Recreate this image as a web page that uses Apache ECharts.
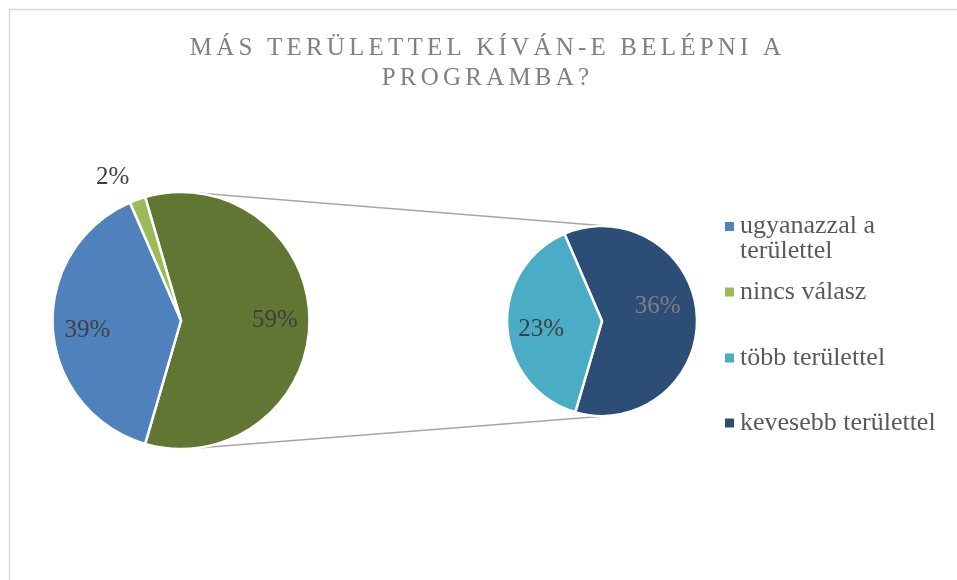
<!DOCTYPE html>
<html lang="hu">
<head>
<meta charset="utf-8">
<title>Más területtel kíván-e belépni a programba?</title>
<script src="https://cdn.jsdelivr.net/npm/echarts@6/dist/echarts.min.js"></script>
<style>
  html, body { margin: 0; padding: 0; background: #ffffff; }
  #chart { width: 957px; height: 580px; }
</style>
</head>
<body>
<div id="chart"></div>
<script>
// ---- data (percent of respondents) ----
const titleLines = ['MÁS TERÜLETTEL KÍVÁN-E BELÉPNI A', 'PROGRAMBA?'];
const mainCategories = ['ugyanazzal a területtel', 'nincs válasz'];
const mainValues = [39, 2];
const splitCategories = ['több területtel', 'kevesebb területtel'];
const splitValues = [23, 36];
const otherName = 'egyéb';
const legendOrder = ['ugyanazzal a területtel', 'nincs válasz', 'több területtel', 'kevesebb területtel'];

// ---- styling ----
const sliceColors = {
  'ugyanazzal a területtel': '#4f81bd',
  'nincs válasz': '#9bbb59',
  'több területtel': '#4bacc6',
  'kevesebb területtel': '#2c4d75',
  'egyéb': '#607632'
};
const labelColors = {
  'kevesebb területtel': '#7f7f7f'
};
const serif = "'Liberation Serif', 'Times New Roman', serif";

// ---- layout ----
const mainPie = { cx: 181, cy: 320.5, r: 128.5 };
const splitPie = { cx: 602, cy: 321, r: 95 };
const splitTilt = 3.5;             // degrees the second pie is turned
const legendIconY = [226, 291.5, 357.5, 422.5];
const legendLine = 25;
// small extra shifts of individual value labels (px)
const labelNudge = {
  'ugyanazzal a területtel': [0, 4],
  'több területtel': [-1, 5],
  'kevesebb területtel': [-4, -11]
};

// upper and lower outer tangents between the two pies
function tangents(a, b) {
  const dx = b.cx - a.cx, dy = b.cy - a.cy;
  const d = Math.hypot(dx, dy);
  const base = Math.atan2(dy, dx);
  const t = Math.acos((a.r - b.r) / d);
  return [base - t, base + t].map(ang => [
    a.cx + a.r * Math.cos(ang), a.cy + a.r * Math.sin(ang),
    b.cx + b.r * Math.cos(ang), b.cy + b.r * Math.sin(ang)
  ]);
}

// pushes inside labels outwards to a given fraction of the radius
function radialLabels(p, ratio, data) {
  return function (params) {
    const rect = params.labelRect;
    const lx = rect.x + rect.width / 2;
    const ly = rect.y + rect.height / 2;
    const dx = lx - p.cx, dy = ly - p.cy;
    const d = Math.hypot(dx, dy);
    if (d === 0 || d > p.r) return {};
    const k = ratio * p.r / d - 1;
    const nudge = labelNudge[data[params.dataIndex].name] || [0, 0];
    return { dx: dx * k + nudge[0], dy: dy * k + nudge[1] };
  };
}

const sum = arr => arr.reduce((a, b) => a + b, 0);
const otherValue = sum(splitValues);
const total = sum(mainValues) + otherValue;

function item(name, value, extra) {
  return Object.assign({
    name: name,
    value: value,
    itemStyle: { color: sliceColors[name] },
    label: { color: labelColors[name] || '#404040' }
  }, extra || {});
}

// the split slice sits centred on the right, then the rest follows clockwise
const mainData = [item(otherName, otherValue)].concat(
  mainCategories.map((n, i) => item(n, mainValues[i]))
);
// the smallest answer gets its label outside the pie
mainData[2].label.position = 'outside';
mainData[2].label.distanceToLabelLine = 0;
mainData[2].labelLine = { show: false, length: 24, length2: 0 };

// second pie: first category on the left
const splitOrder = [1, 0];
const splitData = splitOrder.map(i => item(splitCategories[i], splitValues[i]));
const firstSpan = 360 * splitValues[0] / otherValue;

const baseLabel = {
  show: true,
  position: 'inside',
  formatter: '{c}%',
  fontFamily: serif,
  fontSize: 25,
  color: '#404040'
};

function legendFor(name, idx) {
  // a two-line entry keeps its marker beside the first line
  const twoLines = idx === 0;
  return {
    show: true,
    orient: 'vertical',
    left: 725,
    top: legendIconY[idx] - (twoLines ? legendLine * 1.5 : legendLine / 2),
    padding: 0,
    itemWidth: 9,
    itemHeight: 9,
    icon: 'rect',
    itemStyle: { borderWidth: 0 },
    selectedMode: false,
    data: [name],
    formatter: twoLines ? (n => '\n' + n) : '{name}',
    textStyle: {
      fontFamily: serif,
      fontSize: 26,
      lineHeight: legendLine,
      color: '#595959',
      width: 218,
      overflow: 'break',
      padding: [0, 0, 0, 1]
    }
  };
}

const links = tangents(mainPie, splitPie);

const option = {
  backgroundColor: '#ffffff',
  animation: false,
  title: {
    text: titleLines.join('\n'),
    left: 487.5,
    top: 33,
    textAlign: 'center',
    padding: 0,
    zlevel: 1,
    textStyle: {
      fontFamily: serif,
      fontSize: 25,
      fontWeight: 'normal',
      lineHeight: 30,
      color: '#808080'
    }
  },
  legend: legendOrder.map(legendFor),
  graphic: [
    {
      type: 'rect',
      silent: true,
      z: -10,
      shape: { x: 9.5, y: 9.5, width: 1100, height: 800 },
      style: { fill: 'none', stroke: '#d9d9d9', lineWidth: 1.5 }
    }
  ].concat(links.map(l => ({
    type: 'line',
    silent: true,
    z: -5,
    shape: { x1: l[0], y1: l[1], x2: l[2], y2: l[3] },
    style: { stroke: '#a6a6a6', lineWidth: 1.5 }
  }))),
  series: [
    {
      type: 'pie',
      name: 'main',
      center: [mainPie.cx, mainPie.cy],
      radius: mainPie.r,
      startAngle: 180 * otherValue / total,
      clockwise: true,
      avoidLabelOverlap: false,
      silent: true,
      itemStyle: { borderColor: '#ffffff', borderWidth: 2.5 },
      label: baseLabel,
      labelLine: { show: false },
      labelLayout: radialLabels(mainPie, 0.73, mainData),
      data: mainData
    },
    {
      type: 'pie',
      name: 'split',
      center: [splitPie.cx, splitPie.cy],
      radius: splitPie.r,
      startAngle: 180 - firstSpan / 2 + splitTilt,
      clockwise: true,
      avoidLabelOverlap: false,
      silent: true,
      itemStyle: { borderColor: '#ffffff', borderWidth: 2.5 },
      label: baseLabel,
      labelLine: { show: false },
      labelLayout: radialLabels(splitPie, 0.63, splitData),
      data: splitData
    }
  ]
};

const chart = echarts.init(document.getElementById('chart'), null, { renderer: 'canvas' });
// the title lives on its own canvas layer so tracking can be applied to it alone
try {
  const layer = chart.getZr().painter.getLayer(1);
  if (layer && layer.ctx && 'letterSpacing' in layer.ctx) {
    layer.ctx.letterSpacing = '4.2px';
  }
} catch (e) { /* plain title if the layer is unavailable */ }
chart.setOption(option);
</script>
</body>
</html>
